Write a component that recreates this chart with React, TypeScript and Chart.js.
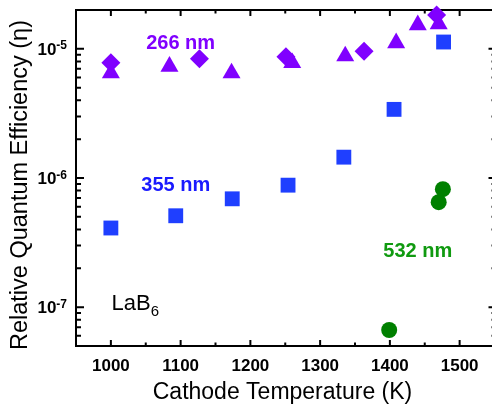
import React, { useEffect, useRef } from 'react';
import { Chart, registerables } from 'chart.js';

Chart.register(...registerables);

const FONT = '"Liberation Sans", Arial, Helvetica, sans-serif';

// 266 nm (triangles)
const tri266Temp = [1000, 1084, 1173, 1260, 1336, 1409, 1440, 1470];
const tri266Eff = [6.5e-6, 7.3e-6, 6.5e-6, 7.8e-6, 8.8e-6, 1.11e-5, 1.53e-5, 1.56e-5];
// 266 nm (diamonds)
const dia266Temp = [1000, 1127, 1251, 1363, 1467];
const dia266Eff = [7.8e-6, 8.4e-6, 8.7e-6, 9.6e-6, 1.83e-5];
// 355 nm (squares)
const sq355Temp = [1000, 1093, 1174, 1254, 1334, 1406, 1477];
const sq355Eff = [4.1e-7, 5.1e-7, 6.9e-7, 8.8e-7, 1.45e-6, 3.4e-6, 1.13e-5];
// 532 nm (circles)
const circ532Temp = [1399, 1470, 1476];
const circ532Eff = [6.65e-8, 6.5e-7, 8.2e-7];

const xTickLabels = [1000, 1100, 1200, 1300, 1400, 1500];
const xMinorTicks = [950, 1050, 1150, 1250, 1350, 1450, 1550];
const yMajorTicks = [1e-7, 1e-6, 1e-5];
const yExponents = ['-7', '-6', '-5'];
const yMinorMantissas = [2, 3, 4, 5, 6, 7, 8, 9];
const yDecades = [1e-8, 1e-7, 1e-6, 1e-5];

const PURPLE = '#8000ff';
const BLUE = '#1f3fff';
const GREEN = '#008000';

const labels = [
  { text: '266 nm', x: 1100, y: 1.11e-5, color: PURPLE },
  { text: '355 nm', x: 1093, y: 8.7e-7, color: '#1a1aff' },
  { text: '532 nm', x: 1440, y: 2.7e-7, color: '#109a10' },
];

const X_TITLE = 'Cathode Temperature (K)';
const Y_TITLE = 'Relative Quantum Efficiency (η)';

const toPts = (xs: number[], ys: number[]) => xs.map((x, i) => ({ x, y: ys[i] }));

const axesPlugin = {
  id: 'customAxes',
  beforeDatasetsDraw(chart: any) {
    const { ctx, chartArea } = chart;
    const { left, right, top, bottom } = chartArea;
    const xs = chart.scales.x;
    const ys = chart.scales.y;
    ctx.save();
    ctx.strokeStyle = '#000';
    ctx.lineWidth = 2;
    ctx.beginPath();
    ctx.rect(left, top, right - left, bottom - top);
    ctx.stroke();
    ctx.beginPath();
    const xTick = (v: number, len: number) => {
      const p = xs.getPixelForValue(v);
      ctx.moveTo(p, bottom);
      ctx.lineTo(p, bottom - len);
      ctx.moveTo(p, top);
      ctx.lineTo(p, top + len);
    };
    xTickLabels.forEach((v) => xTick(v, 6));
    xMinorTicks.forEach((v) => xTick(v, 3.5));
    const yTick = (v: number, lenL: number, lenR: number) => {
      const p = ys.getPixelForValue(v);
      if (p < top + 1 || p > bottom - 1) return;
      ctx.moveTo(left, p);
      ctx.lineTo(left + lenL, p);
      ctx.moveTo(right, p);
      ctx.lineTo(right - lenR, p);
    };
    yMajorTicks.forEach((v) => yTick(v, 8, 6));
    yDecades.forEach((d) => yMinorMantissas.forEach((m) => yTick(m * d, 5, 3)));
    ctx.stroke();
    ctx.restore();
  },
  afterDraw(chart: any) {
    const { ctx, chartArea } = chart;
    const xs = chart.scales.x;
    const ys = chart.scales.y;
    ctx.save();
    // y tick labels 10^n
    yMajorTicks.forEach((v, i) => {
      const p = ys.getPixelForValue(v);
      const exp = yExponents[i];
      ctx.fillStyle = '#000';
      ctx.textBaseline = 'alphabetic';
      ctx.textAlign = 'right';
      ctx.font = `bold 12px ${FONT}`;
      const expW = ctx.measureText(exp).width;
      const rightEdge = chartArea.left - 9;
      ctx.fillText(exp, rightEdge, p + 0.5);
      ctx.font = `bold 17px ${FONT}`;
      ctx.fillText('10', rightEdge - expW, p + 6);
    });
    // axis titles
    ctx.fillStyle = '#000';
    ctx.textAlign = 'center';
    ctx.textBaseline = 'middle';
    ctx.font = `23px ${FONT}`;
    ctx.fillText(X_TITLE, 282.5, 393);
    ctx.save();
    ctx.translate(21, 185);
    ctx.rotate(-Math.PI / 2);
    ctx.font = `23.5px ${FONT}`;
    ctx.fillText(Y_TITLE, 0, 0);
    ctx.restore();
    // annotations
    labels.forEach((l) => {
      ctx.font = `bold 20px ${FONT}`;
      ctx.fillStyle = l.color;
      ctx.textAlign = 'center';
      ctx.textBaseline = 'middle';
      ctx.fillText(l.text, xs.getPixelForValue(l.x), ys.getPixelForValue(l.y));
    });
    // LaB6
    const lx = xs.getPixelForValue(1001);
    const ly = ys.getPixelForValue(9.5e-8);
    ctx.fillStyle = '#000';
    ctx.textAlign = 'left';
    ctx.textBaseline = 'alphabetic';
    ctx.font = `22px ${FONT}`;
    ctx.fillText('LaB', lx, ly);
    const w = ctx.measureText('LaB').width;
    ctx.font = `15px ${FONT}`;
    ctx.fillText('6', lx + w, ly + 6);
    ctx.restore();
  },
};

export default function App() {
  const ref = useRef<HTMLCanvasElement | null>(null);
  useEffect(() => {
    if (!ref.current) return;
    const chart = new Chart(ref.current, {
      type: 'scatter',
      data: {
        datasets: [
          {
            label: '266 nm triangles',
            data: toPts(tri266Temp, tri266Eff),
            pointStyle: 'triangle',
            pointRadius: 10.4,
            backgroundColor: PURPLE,
            borderColor: PURPLE,
            borderWidth: 0,
            clip: false,
          },
          {
            label: '266 nm diamonds',
            data: toPts(dia266Temp, dia266Eff),
            pointStyle: 'rectRot',
            pointRadius: 9.5,
            backgroundColor: PURPLE,
            borderColor: PURPLE,
            borderWidth: 0,
            clip: false,
          },
          {
            label: '355 nm',
            data: toPts(sq355Temp, sq355Eff),
            pointStyle: 'rect',
            pointRadius: 10.5,
            backgroundColor: BLUE,
            borderColor: BLUE,
            borderWidth: 0,
            clip: false,
          },
          {
            label: '532 nm',
            data: toPts(circ532Temp, circ532Eff),
            pointStyle: 'circle',
            pointRadius: 8,
            backgroundColor: GREEN,
            borderColor: GREEN,
            borderWidth: 0,
            clip: false,
          },
        ],
      },
      options: {
        responsive: false,
        animation: false,
        layout: { autoPadding: false, padding: { top: 10, right: 5.5, left: 0, bottom: 0 } },
        plugins: { legend: { display: false }, tooltip: { enabled: false } },
        scales: {
          x: {
            type: 'linear',
            min: 950,
            max: 1550,
            afterBuildTicks: (s: any) => {
              s.ticks = xTickLabels.map((v) => ({ value: v }));
            },
            afterFit: (s: any) => {
              s.height = 65;
              s.paddingLeft = 0;
              s.paddingRight = 0;
            },
            grid: { display: false, drawTicks: false },
            border: { display: false },
            ticks: {
              autoSkip: false,
              maxRotation: 0,
              padding: 10,
              color: '#000',
              font: { family: FONT, size: 17, weight: 'bold' },
              callback: (v: any) => String(v),
            },
            title: { display: false },
          },
          y: {
            type: 'logarithmic',
            min: 5e-8,
            max: 2e-5,
            afterFit: (s: any) => {
              s.width = 76;
              s.paddingTop = 0;
              s.paddingBottom = 0;
            },
            grid: { display: false, drawTicks: false },
            border: { display: false },
            ticks: { callback: () => '' },
            title: { display: false },
          },
        },
      },
      plugins: [axesPlugin],
    } as any);
    return () => chart.destroy();
  }, []);
  return (
    <div style={{ position: 'absolute', left: 0, top: 0, width: 492, height: 411, overflow: 'hidden', background: '#fff' }}>
      <canvas ref={ref} width={500} height={411} style={{ display: 'block', width: 500, height: 411 }} />
    </div>
  );
}
